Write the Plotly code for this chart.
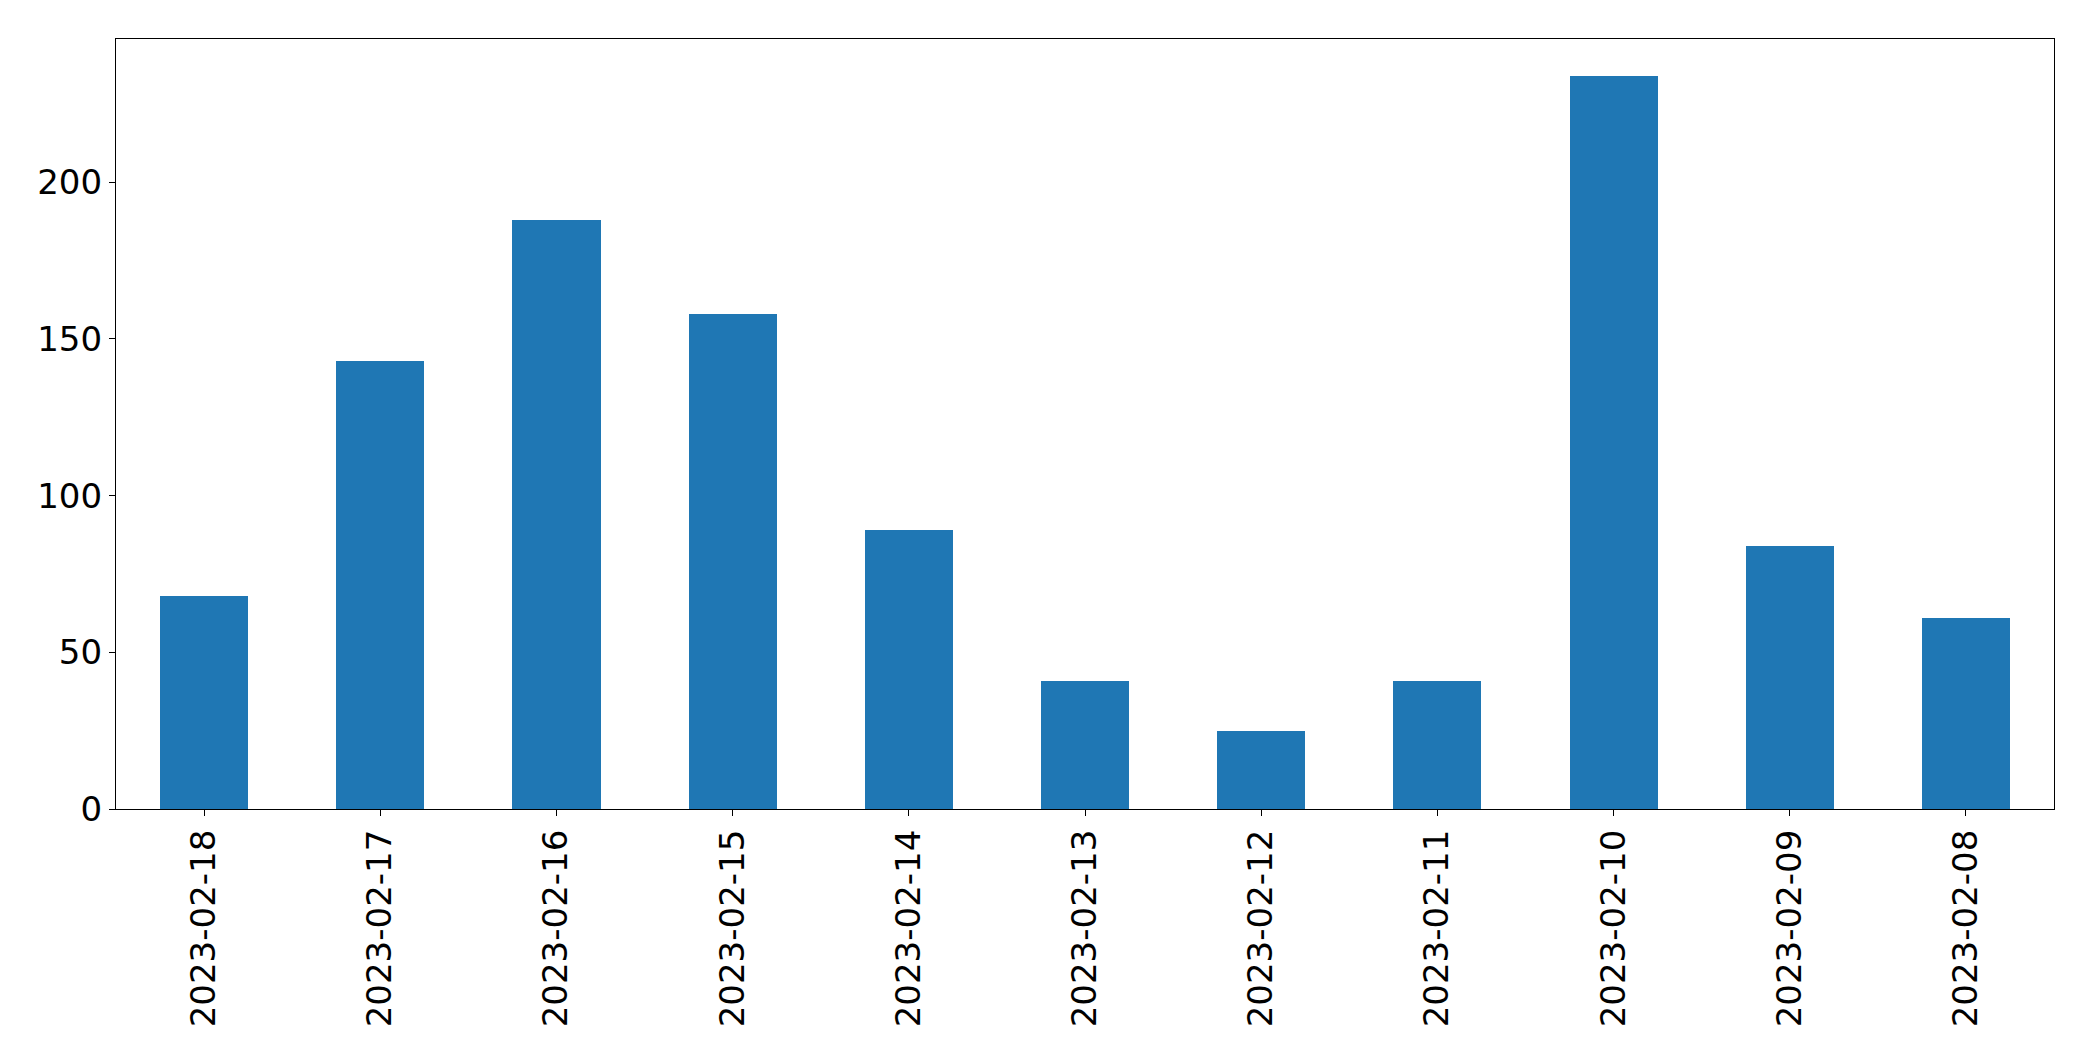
import plotly.graph_objects as go

dates = ["2023-02-18", "2023-02-17", "2023-02-16", "2023-02-15", "2023-02-14",
         "2023-02-13", "2023-02-12", "2023-02-11", "2023-02-10", "2023-02-09", "2023-02-08"]
counts = [68, 143, 188, 158, 89, 41, 25, 41, 234, 84, 61]
y_ticks = [0, 50, 100, 150, 200]

fig = go.Figure(go.Bar(x=dates, y=counts, width=0.5, marker=dict(color="#1f77b4", line=dict(width=0))))

font = dict(family="DejaVu Sans", size=34, color="black")
fig.update_layout(
    width=2085, height=1053,
    margin=dict(l=108, r=39, t=31, b=252, pad=0, autoexpand=False),
    paper_bgcolor="white", plot_bgcolor="white",
    showlegend=False, bargap=0,
    font=font,
)
fig.update_xaxes(
    type="category", range=[-0.5, len(dates) - 0.5], tickangle=-90,
    showline=True, linecolor="black", linewidth=1.2, mirror=True,
    ticks="outside", ticklen=6, tickwidth=1.2, tickcolor="black",
    showgrid=False, zeroline=False, tickfont=font, automargin=False,
)
fig.update_yaxes(
    range=[0, max(counts) * 1.05], tickvals=y_ticks,
    showline=True, linecolor="black", linewidth=1.2, mirror=True,
    ticks="outside", ticklen=6, tickwidth=1.2, tickcolor="black",
    showgrid=False, zeroline=False, tickfont=font, automargin=False,
)
fig.write_html("out.html")
